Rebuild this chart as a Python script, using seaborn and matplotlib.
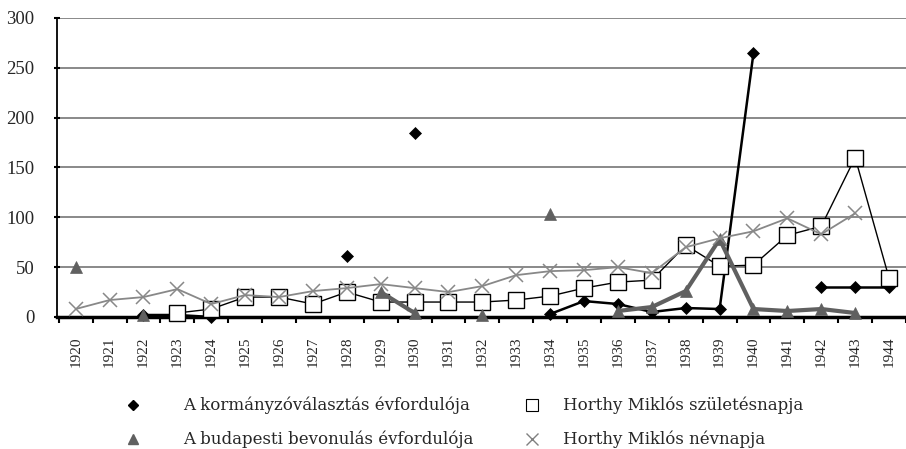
import matplotlib.pyplot as plt
import seaborn as sns
import numpy as np
import pandas as pd
from matplotlib.lines import Line2D

nan = np.nan
years = list(range(1920, 1945))

# values (NaN = no data that year)
kormanyzo = [nan, nan, 2, 2, 0, nan, nan, nan, 61, nan, 185, nan, nan, nan,
             3, 16, 13, 5, 9, 8, 265, nan, 30, 30, 30]
bevonulas = [50, nan, 2, nan, nan, nan, nan, nan, nan, 25, 4, nan, 2, nan,
             103, nan, 6, 10, 26, 78, 8, 6, 8, 4, nan]
szuletesnap = [nan, nan, nan, 4, 8, 20, 20, 13, 25, 15, 15, 15, 15, 17,
               21, 29, 35, 37, 72, 51, 52, 82, 91, 160, 39]
nevnap = [8, 17, 20, 28, 13, 22, 20, 26, 29, 33, 29, 25, 31, 42,
          46, 47, 50, 44, 70, 79, 86, 99, 83, 104, nan]

labels = ['A kormányzóválasztás évfordulója',
          'A budapesti bevonulás évfordulója',
          'Horthy Miklós születésnapja',
          'Horthy Miklós névnapja']


def long_df(vals):
    v = np.array(vals, dtype=float)
    df = pd.DataFrame({'pos': np.arange(len(years)), 'val': v,
                       'seg': np.isnan(v).cumsum()})
    return df.dropna()


sns.set_style('white')
plt.rcParams['font.family'] = ['Liberation Serif', 'DejaVu Serif']

fig = plt.figure(figsize=(9.06, 4.49), dpi=100)
ax = fig.add_axes([0.063, 0.294, 0.937, 0.666])

styles = [
    (kormanyzo, dict(color='black', lw=1.8, marker='D', markersize=6,
                     markerfacecolor='black', mec='black', mew=0.5), 3),
    (szuletesnap, dict(color='black', lw=1.0, marker='s', markersize=11,
                       markerfacecolor='white', mec='black', mew=1.0), 4),
    (bevonulas, dict(color='#606060', lw=3.0, marker='^', markersize=9,
                     markerfacecolor='#606060', mec='#606060', mew=0.5), 5),
    (nevnap, dict(color='#888888', lw=1.3, marker='x', markersize=10,
                  mec='#888888', mew=1.1), 6),
]

for vals, kw, z in styles:
    d = long_df(vals)
    sns.lineplot(data=d, x='pos', y='val', units='seg', estimator=None,
                 ax=ax, legend=False, zorder=z, clip_on=False, **kw)

ax.set_xlim(-0.55, 24.27)
ax.set_ylim(0, 300)
ax.set_xlabel('')
ax.set_ylabel('')

ax.yaxis.grid(True, color='#808080', lw=1.3)
ax.set_axisbelow(True)
for s in ['top', 'right']:
    ax.spines[s].set_visible(False)
ax.spines['left'].set_color('black')
ax.spines['left'].set_linewidth(1.3)
ax.spines['bottom'].set_color('black')
ax.spines['bottom'].set_linewidth(2.5)
ax.spines['bottom'].set_zorder(2.5)

ax.set_yticks(range(0, 301, 50))
ax.tick_params(axis='y', direction='inout', length=5, width=1.5,
               color='black', labelsize=13.5, pad=14, left=True)
ax.set_xticks(range(len(years)))
ax.set_xticklabels([str(y) for y in years], rotation=90)
ax.set_xticks(np.arange(-0.5, len(years), 1.0), minor=True)
ax.tick_params(axis='x', which='major', length=0, pad=14, labelsize=11)
ax.tick_params(axis='x', which='minor', direction='out', length=4,
               width=1.5, color='black', bottom=True)

h_d = Line2D([], [], ls='none', marker='D', color='black', markersize=5)
h_t = Line2D([], [], ls='none', marker='^', color='#606060', markersize=7)
h_s = Line2D([], [], ls='none', marker='s', markerfacecolor='white',
             markeredgecolor='black', markeredgewidth=0.8, markersize=9)
h_x = Line2D([], [], ls='none', marker='x', color='#808080',
             markersize=8, markeredgewidth=1.0)

leg_font = {'family': 'DejaVu Serif', 'size': 12}
top = 1 - 397 / 449
fig.legend([h_d, h_t], labels[:2], loc='upper left',
           bbox_to_anchor=(124.7 / 906, top), frameon=False, borderpad=0,
           borderaxespad=0, handlelength=1.0, handletextpad=2.5,
           labelspacing=0.99, prop=leg_font)
fig.legend([h_s, h_x], labels[2:], loc='upper left',
           bbox_to_anchor=(523.7 / 906, top), frameon=False, borderpad=0,
           borderaxespad=0, handlelength=1.0, handletextpad=1.36,
           labelspacing=0.99, prop=leg_font)

fig.savefig('out.png', dpi=100)
